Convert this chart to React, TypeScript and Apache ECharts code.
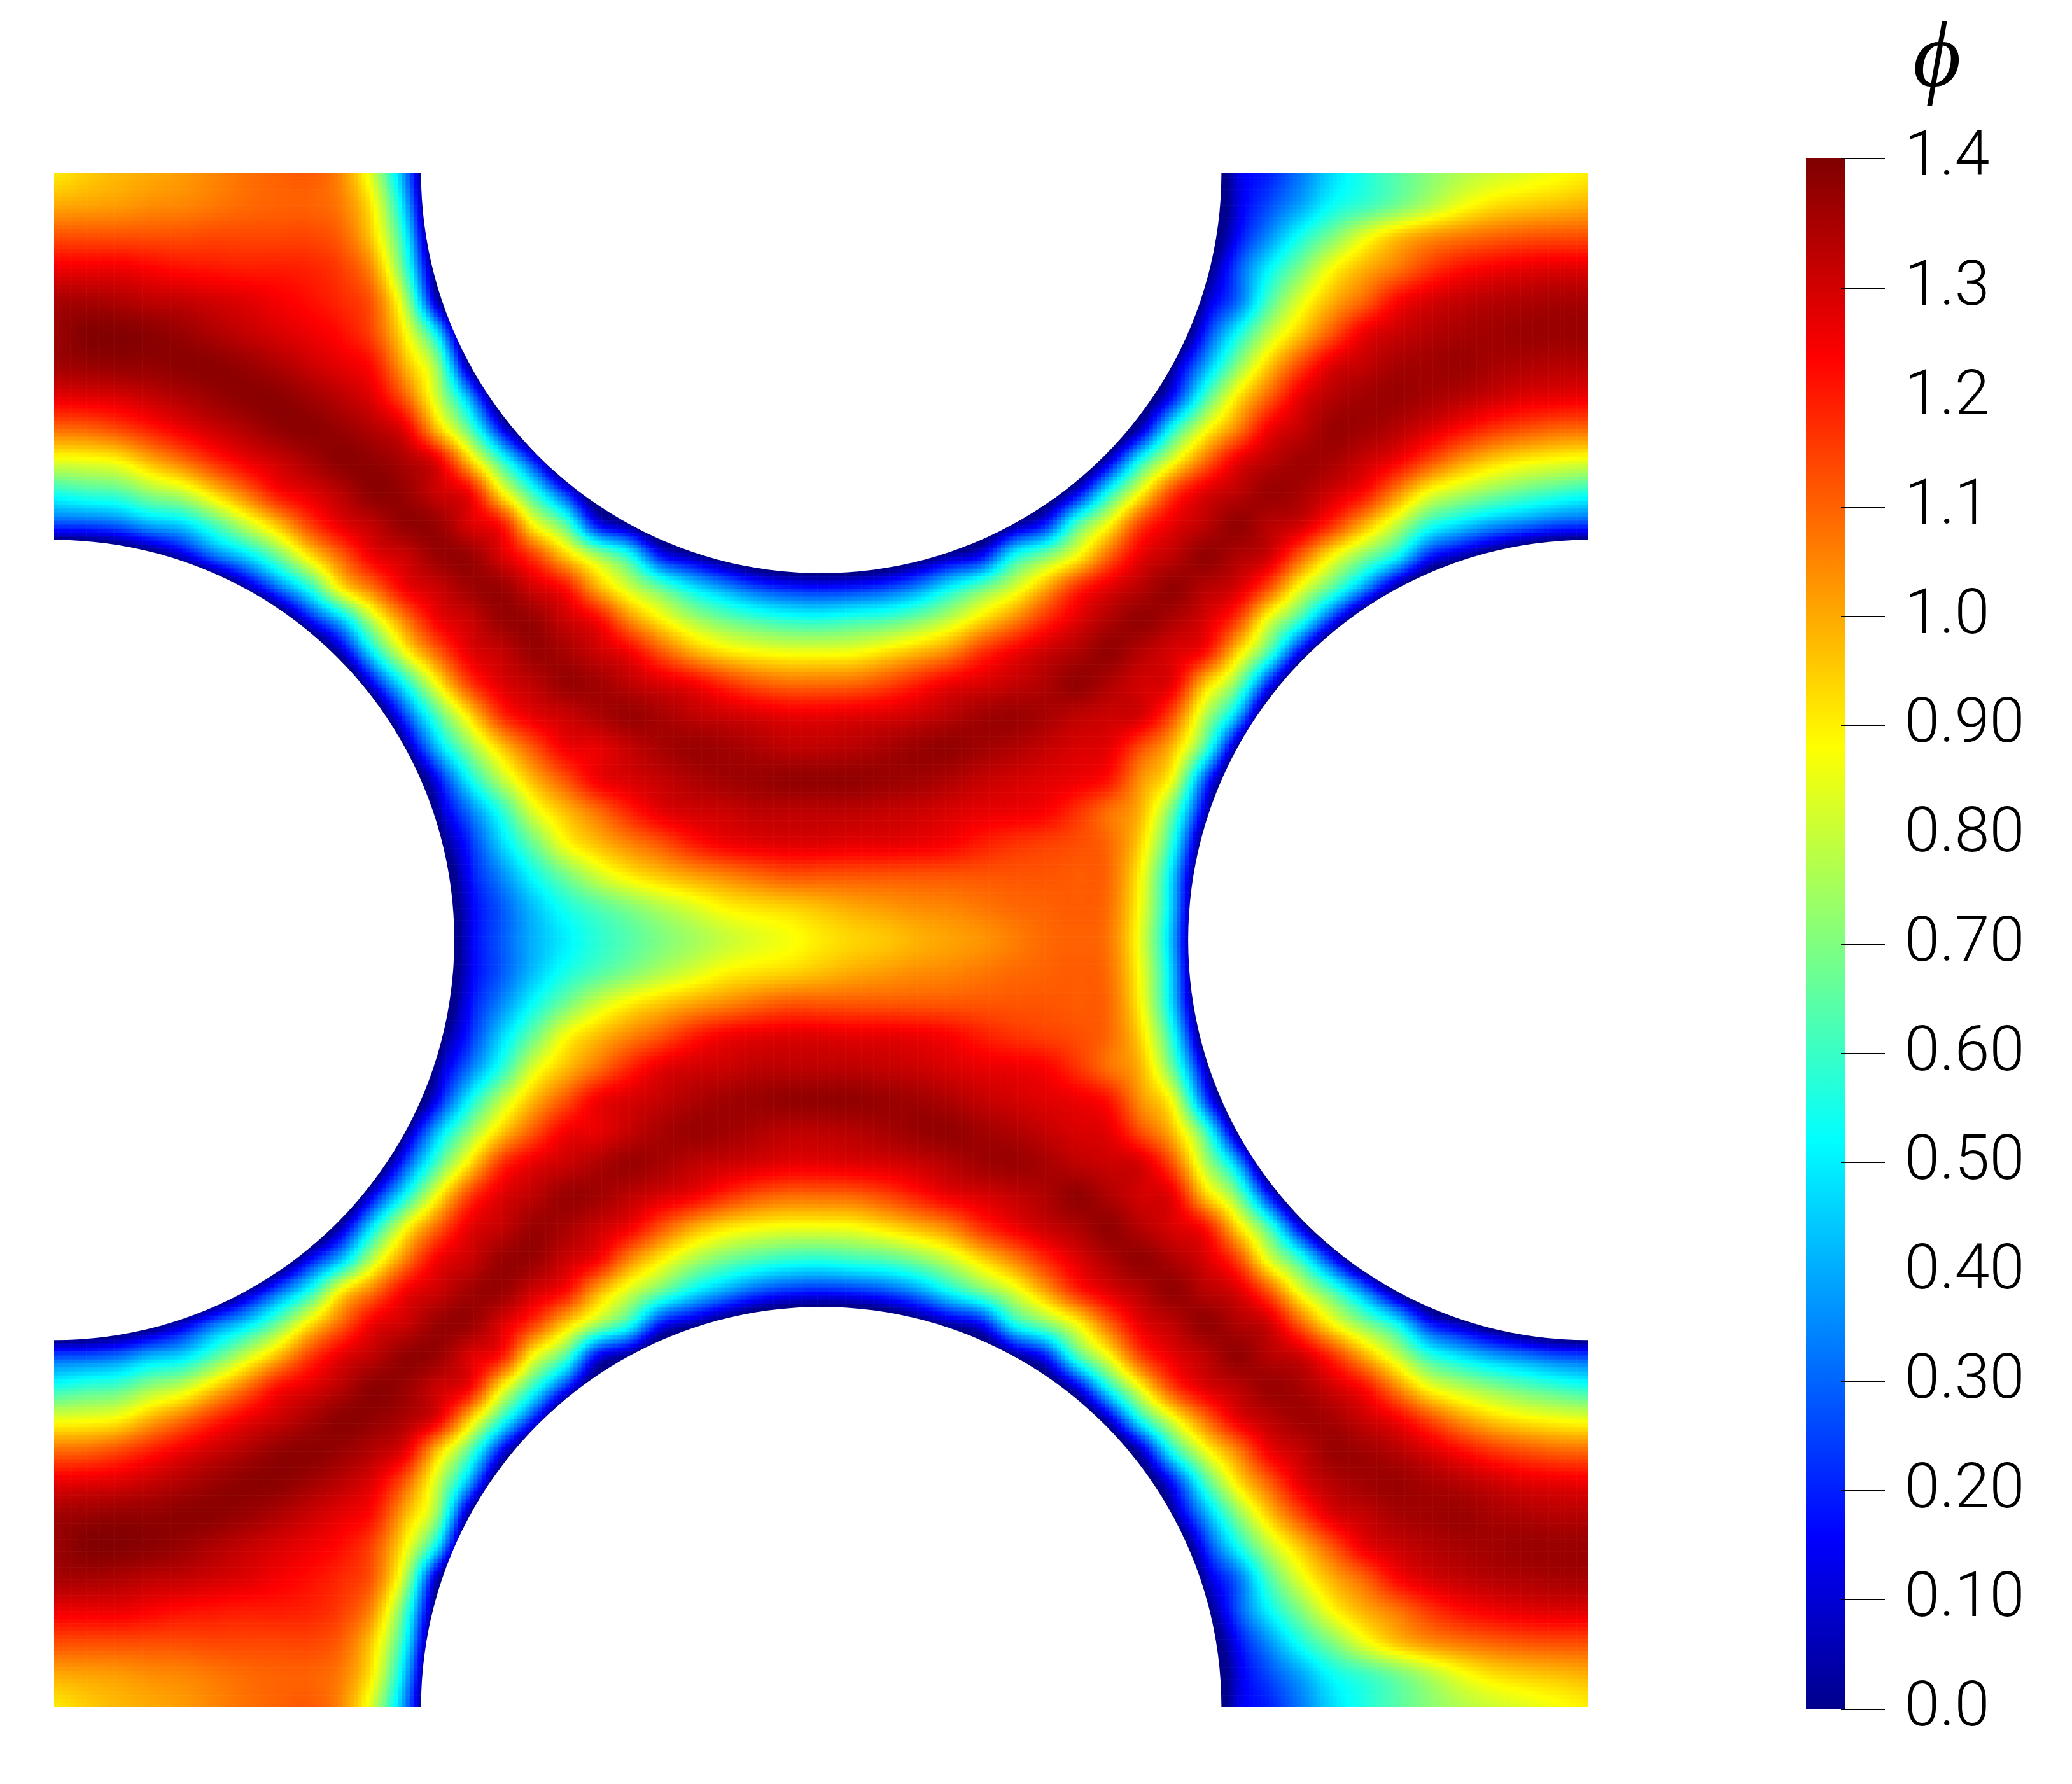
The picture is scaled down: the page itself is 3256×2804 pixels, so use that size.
import React, { useEffect, useRef } from "react";
import * as echarts from "echarts";

// Field values, phi x 100 on a 49-column grid of the upper half.
// Each segment is [first column, values...]; columns not listed lie inside a wall.
const phi00 = [[0,91,95,98,100,102,105,108,110,111,104,80,34],[37,10,20,33,47,56,64,71,77,81,84,87,90]];
const phi01 = [[0,100,101,102,104,105,107,109,110,110,106,88,42],[37,10,26,39,53,60,68,77,86,92,95,97,99]];
const phi02 = [[0,113,113,113,113,113,114,114,114,114,110,93,52],[37,15,36,55,70,85,96,103,107,110,112,113,113]];
const phi03 = [[0,126,126,126,124,122,121,120,120,119,115,102,61],[37,26,51,70,88,99,107,116,122,125,127,128,128]];
const phi04 = [[0,136,136,135,133,132,130,128,125,122,118,110,76,5],[36,5,30,62,84,99,110,123,129,132,134,135,136,136]];
const phi05 = [[0,138,141,141,140,138,135,132,129,126,122,113,88,47],[36,20,52,78,96,112,126,131,134,136,137,138,138,138]];
const phi06 = [[0,137,138,139,139,140,140,138,135,131,127,121,98,71],[36,38,70,95,114,128,132,136,137,138,136,135,134,134]];
const phi07 = [[0,127,128,129,132,135,138,140,140,137,133,127,110,80,38],[35,18,60,90,110,127,134,137,138,136,134,131,128,127,126]];
const phi08 = [[0,109,110,114,120,126,131,135,139,140,138,134,126,96,64,16],[34,8,55,85,105,125,132,138,137,134,129,123,117,113,110,109]];
const phi09 = [[0,85,86,89,99,108,118,126,131,136,140,139,135,126,95,59,20],[33,10,55,85,108,126,133,137,136,131,125,114,103,95,90,87,85]];
const phi10 = [[0,56,60,63,73,80,94,108,122,128,134,140,138,131,124,90,58,22],[32,13,55,88,115,128,133,138,136,130,122,105,87,78,71,65,60,56]];
const phi11 = [[0,25,26,30,40,46,62,80,97,115,127,133,139,138,129,121,88,64,17],[31,20,62,88,115,127,133,139,134,130,117,99,80,58,47,38,32,26,24]];
const phi12 = [[4,8,30,46,67,91,110,126,131,138,138,129,116,96,76,56,19,5],[28,5,17,53,70,88,110,127,133,139,135,130,110,88,70,52,20,5]];
const phi13 = [[6,2,30,56,90,108,125,131,137,138,130,122,100,82,66,50,38,27,21,19,21,26,36,52,67,82,100,118,128,134,139,134,129,112,85,63,35]];
const phi14 = [[8,16,44,80,106,125,131,138,138,131,124,105,90,77,68,62,58,57,60,63,70,80,93,105,118,128,135,139,135,129,115,84,58,20]];
const phi15 = [[9,8,52,87,110,127,132,138,136,131,125,112,100,92,88,86,86,87,92,98,105,117,125,131,135,139,134,129,122,94,62,14]];
const phi16 = [[10,16,54,88,115,128,133,138,137,133,129,125,118,112,109,109,110,114,120,126,129,132,135,139,135,130,126,96,70,20]];
const phi17 = [[11,26,63,92,117,127,131,135,138,136,133,131,129,127,127,128,129,131,134,137,138,136,133,131,129,112,78,42]];
const phi18 = [[12,43,72,95,112,125,127,132,136,138,137,135,133,133,134,136,138,139,137,135,132,129,127,113,97,62,2]];
const phi19 = [[12,16,52,78,98,112,125,129,132,135,137,138,139,139,139,138,137,135,132,130,128,126,121,103,85,28]];
const phi20 = [[12,3,32,57,83,97,108,119,127,130,131,133,133,133,133,132,131,129,127,126,124,117,108,98,66,10]];
const phi21 = [[13,21,46,67,87,97,105,112,120,125,127,128,128,127,127,126,124,120,117,115,113,109,93,55]];
const phi22 = [[13,16,35,53,68,81,90,96,101,105,109,112,112,112,112,112,112,112,112,112,111,109,88,45]];
const phi23 = [[13,12,28,43,55,63,70,77,83,89,92,94,97,100,102,104,105,107,109,110,111,108,86,43]];
const phi24 = [[13,12,28,41,50,58,64,70,75,80,84,87,91,94,96,99,101,103,106,109,110,107,84,40]];
const upperRows = [phi00,phi01,phi02,phi03,phi04,phi05,phi06,phi07,phi08,phi09,phi10,phi11,phi12,phi13,phi14,phi15,phi16,phi17,phi18,phi19,phi20,phi21,phi22,phi23,phi24];

const wallCentres = [[24, 0], [0, 24], [48, 24], [24, 48]];
const wallRadius = 12.52;

const jetValues = [0, 0.157, 0.52, 0.88, 1.237, 1.419];
const jetColors = [[0, 0, 140], [0, 0, 255], [0, 255, 255], [255, 255, 0], [255, 0, 0], [127, 0, 0]];
const tickValues = [0, 0.1, 0.2, 0.3, 0.4, 0.5, 0.6, 0.7, 0.8, 0.9, 1.0, 1.1, 1.2, 1.3, 1.419];
const tickLabels = ["0.0", "0.10", "0.20", "0.30", "0.40", "0.50", "0.60", "0.70", "0.80", "0.90", "1.0", "1.1", "1.2", "1.3", "1.4"];
const scaleMax = 1.419;
const colorbarValue = [scaleMax];

const N = 48;
const SUB = 8;
const WALL_SLOPE = 0.65;

function expand(row: number[][]): number[] {
  const out = new Array(N + 1).fill(0);
  row.forEach((seg) => seg.slice(1).forEach((v, k) => { out[seg[0] + k] = v / 100; }));
  return out;
}
const upper = upperRows.map(expand);
const field: number[][] = [...upper, ...upper.slice(0, 24).reverse()];

// Grid nodes inside a wall have no value; for shading they continue the wall-side slope below zero.
function depthInWall(i: number, j: number) {
  let d = 0;
  wallCentres.forEach((c) => { d = Math.max(d, wallRadius - Math.hypot(i - c[0], j - c[1])); });
  return d;
}
const shadingField: number[][] = field.map((row, j) => row.map((v, i) => {
  const d = depthInWall(i, j);
  return d > 0 ? -WALL_SLOPE * d : v;
}));

function jet(v: number): string {
  const x = Math.max(0, Math.min(scaleMax, v));
  let k = 0;
  while (k < jetValues.length - 2 && x > jetValues[k + 1]) k++;
  const t = (x - jetValues[k]) / (jetValues[k + 1] - jetValues[k]);
  const a = jetColors[k], b = jetColors[k + 1];
  return `rgb(${Math.round(a[0] + (b[0] - a[0]) * t)},${Math.round(a[1] + (b[1] - a[1]) * t)},${Math.round(a[2] + (b[2] - a[2]) * t)})`;
}
function node(i: number, j: number) {
  return shadingField[Math.max(0, Math.min(N, j))][Math.max(0, Math.min(N, i))];
}
function cr(p0: number, p1: number, p2: number, p3: number, t: number) {
  return 0.5 * (2 * p1 + (p2 - p0) * t + (2 * p0 - 5 * p1 + 4 * p2 - p3) * t * t + (3 * p1 - p0 - 3 * p2 + p3) * t * t * t);
}
function shade(i: number, j: number, s: number, t: number) {
  const r = [-1, 0, 1, 2].map((dj) => cr(node(i - 1, j + dj), node(i, j + dj), node(i + 1, j + dj), node(i + 2, j + dj), s));
  return cr(r[0], r[1], r[2], r[3], t);
}

const cells: number[][] = [];
for (let j = 0; j < N; j++) for (let i = 0; i < N; i++) cells.push([i, j, field[j][i]]);

function renderCell(_: any, api: any) {
  const i = api.value(0), j = api.value(1);
  if (depthInWall(i + 0.5, j + 0.5) > 1) return null;
  const p0 = api.coord([i, j]), p1 = api.coord([i + 1, j + 1]);
  const w = (p1[0] - p0[0]) / SUB, h = (p1[1] - p0[1]) / SUB;
  const children: any[] = [];
  for (let b = 0; b < SUB; b++) for (let a = 0; a < SUB; a++) {
    children.push({
      type: "rect",
      shape: { x: p0[0] + a * w, y: p0[1] + b * h, width: w + 0.6, height: h + 0.6 },
      style: { fill: jet(shade(i, j, (a + 0.5) / SUB, (b + 0.5) / SUB)) },
      silent: true,
    });
  }
  return { type: "group", children };
}
function renderWall(_: any, api: any) {
  const c = api.coord([api.value(0), api.value(1)]);
  const e = api.coord([api.value(0) + wallRadius, api.value(1)]);
  return { type: "circle", shape: { cx: c[0], cy: c[1], r: Math.abs(e[0] - c[0]) }, style: { fill: "#ffffff" }, silent: true };
}

export default function App() {
  const ref = useRef<HTMLDivElement>(null);
  useEffect(() => {
    const chart = echarts.init(ref.current!, undefined, { renderer: "svg", width: 3256, height: 2804 });
    const stops = jetValues.map((v, k) => ({
      offset: v / scaleMax,
      color: `rgb(${jetColors[k].join(",")})`,
    }));
    chart.setOption({
      animation: false,
      backgroundColor: "#ffffff",
      title: {
        text: "\u03D5",
        left: 3001,
        top: 16,
        textStyle: { fontFamily: "Liberation Serif", fontStyle: "italic", fontWeight: "normal", fontSize: 146, lineHeight: 130, color: "#000" },
      },
      grid: [
        { left: 85, top: 272, width: 2411, height: 2411 },
        { left: 2838, top: 249, width: 61, height: 2437 },
      ],
      xAxis: [
        { type: "value", gridIndex: 0, min: 0, max: N, show: false },
        { type: "category", gridIndex: 1, data: ["phi"], show: false },
      ],
      yAxis: [
        { type: "value", gridIndex: 0, min: 0, max: N, inverse: true, show: false },
        {
          type: "value",
          gridIndex: 1,
          min: 0,
          max: scaleMax,
          position: "right",
          offset: -6,
          splitLine: { show: false },
          axisLine: { show: false },
          axisTick: { show: true, customValues: tickValues, length: 69, lineStyle: { color: "#000", width: 1 } },
          axisLabel: {
            show: true,
            customValues: tickValues,
            margin: 100,
            fontFamily: "Roboto",
            fontWeight: 300,
            fontSize: 99,
            lineHeight: 16,
            color: "#000",
            align: "left",
            verticalAlign: "bottom",
            formatter: (v: number) => tickLabels[tickValues.findIndex((t) => Math.abs(t - v) < 1e-6)] ?? "",
          },
          z: 5,
        },
      ],
      series: [
        {
          type: "custom",
          name: "field",
          xAxisIndex: 0,
          yAxisIndex: 0,
          coordinateSystem: "cartesian2d",
          data: cells,
          encode: { x: 0, y: 1 },
          renderItem: renderCell,
          clip: true,
          progressive: 0,
          z: 1,
        },
        {
          type: "custom",
          name: "walls",
          xAxisIndex: 0,
          yAxisIndex: 0,
          coordinateSystem: "cartesian2d",
          data: wallCentres,
          encode: { x: 0, y: 1 },
          renderItem: renderWall,
          clip: true,
          z: 2,
        },
        {
          type: "bar",
          name: "scale",
          xAxisIndex: 1,
          yAxisIndex: 1,
          data: colorbarValue,
          barWidth: "100%",
          silent: true,
          itemStyle: { color: new echarts.graphic.LinearGradient(0, 1, 0, 0, stops) },
          z: 1,
        },
      ],
    });
    return () => chart.dispose();
  }, []);
  return <div ref={ref} style={{ position: "absolute", left: 0, top: 0, width: 3256, height: 2804 }} />;
}
